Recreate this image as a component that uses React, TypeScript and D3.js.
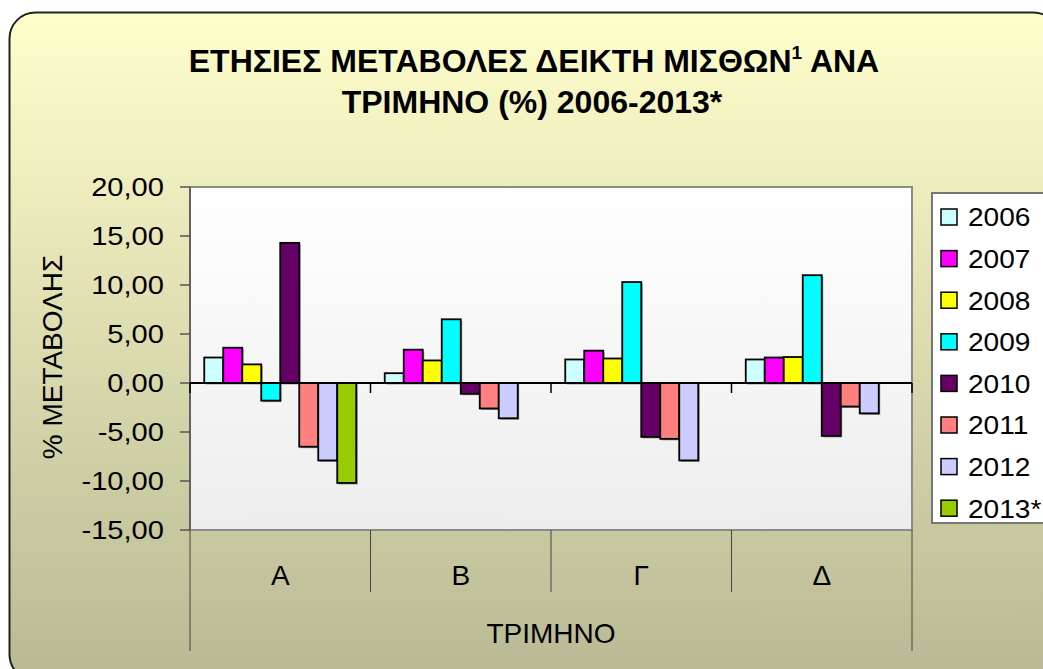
import React from "react";
import * as d3 from "d3";

const categories = ["Α", "Β", "Γ", "Δ"];
const years = ["2006", "2007", "2008", "2009", "2010", "2011", "2012", "2013*"];
const colors = ["#CCFFFF", "#FF00FF", "#FFFF00", "#00FFFF", "#660066", "#FF8080", "#CCCCFF", "#99CC00"];

// values per year, one per quarter (Α, Β, Γ, Δ)
const v2006 = [2.6, 1.0, 2.4, 2.4];
const v2007 = [3.6, 3.4, 3.3, 2.6];
const v2008 = [1.9, 2.3, 2.5, 2.65];
const v2009 = [-1.8, 6.5, 10.3, 11.0];
const v2010 = [14.3, -1.1, -5.5, -5.4];
const v2011 = [-6.5, -2.6, -5.7, -2.4];
const v2012 = [-7.9, -3.6, -7.9, -3.1];
const v2013 = [-10.2, null, null, null];
const series = [v2006, v2007, v2008, v2009, v2010, v2011, v2012, v2013];

const yTicks = [-15, -10, -5, 0, 5, 10, 15, 20];

const W = 1043;
const H = 669;
const plot = { left: 190, right: 912, top: 187, bottom: 530 };
const font = "'Liberation Sans', Arial, sans-serif";

function App() {
  const x0 = d3
    .scaleBand<string>()
    .domain(categories)
    .range([plot.left, plot.right])
    .paddingInner(0)
    .paddingOuter(0);
  const x1 = d3
    .scaleBand<string>()
    .domain(years)
    .range([0, x0.bandwidth()])
    .paddingInner(0)
    .paddingOuter(0.75);
  const y = d3.scaleLinear().domain([-15, 20]).range([plot.bottom, plot.top]);
  const fmt = (v: number) => d3.format(".2f")(v).replace(".", ",").replace("−", "-");

  const bounds = [...categories.map((c) => x0(c) as number), plot.right];

  return (
    <svg width={W} height={H} style={{ position: "absolute", left: 0, top: 0, display: "block" }}>
      <defs>
        <linearGradient id="bg" x1="0" y1="0" x2="0" y2="1">
          <stop offset="0" stopColor="#FFFFCC" />
          <stop offset="1" stopColor="#B8B894" />
        </linearGradient>
        <linearGradient id="pa" x1="0" y1="0" x2="0" y2="1">
          <stop offset="0" stopColor="#FFFFFF" />
          <stop offset="1" stopColor="#EDEDED" />
        </linearGradient>
      </defs>
      <rect width={W} height={H} fill="#fff" />
      <rect x={9.5} y={12.5} width={1050} height={668} rx={26} fill="url(#bg)" stroke="#222" strokeWidth={2} />

      <text x={534} y={72} textAnchor="middle" fontFamily={font} fontWeight="bold" fontSize={32} fill="#000">
        ΕΤΗΣΙΕΣ ΜΕΤΑΒΟΛΕΣ ΔΕΙΚΤΗ ΜΙΣΘΩΝ
        <tspan fontSize={19} dy={-13}>1</tspan>
        <tspan dy={13}> ΑΝΑ</tspan>
      </text>
      <text x={532} y={113} textAnchor="middle" fontFamily={font} fontWeight="bold" fontSize={32} fill="#000">
        ΤΡΙΜΗΝΟ (%) 2006-2013*
      </text>

      <rect
        x={plot.left}
        y={plot.top}
        width={plot.right - plot.left}
        height={plot.bottom - plot.top}
        fill="url(#pa)"
        stroke="#8a8a8a"
        strokeWidth={2}
      />
      <line x1={plot.left} x2={plot.left} y1={plot.top} y2={plot.bottom} stroke="#555" strokeWidth={1.5} />

      {yTicks.map((t) => (
        <g key={t}>
          <line x1={180} x2={plot.left} y1={y(t)} y2={y(t)} stroke="#555" strokeWidth={1.5} />
          <text
            transform={`translate(164,${y(t)}) scale(1.12,1)`}
            dy="0.36em"
            textAnchor="end"
            fontFamily={font}
            fontSize={26}
            fill="#000"
          >
            {fmt(t)}
          </text>
        </g>
      ))}
      <text
        transform={`translate(62,357) rotate(-90)`}
        textAnchor="middle"
        fontFamily={font}
        fontSize={28}
        fill="#000"
      >
        % ΜΕΤΑΒΟΛΗΣ
      </text>

      {categories.map((c, ci) => (
        <g key={c} transform={`translate(${x0(c)},0)`}>
          {series.map((vals, si) => {
            const v = vals[ci];
            if (v == null) return null;
            const bx = x1(years[si]) as number;
            const top = Math.min(y(v), y(0));
            const h = Math.abs(y(v) - y(0));
            return (
              <g key={si}>
                <rect x={bx + 1.5} y={top + 1.5} width={x1.bandwidth()} height={h} fill="#9a9a9a" />
                <rect
                  x={bx}
                  y={top}
                  width={x1.bandwidth()}
                  height={h}
                  fill={colors[si]}
                  stroke="#000"
                  strokeWidth={1.8}
                />
              </g>
            );
          })}
        </g>
      ))}

      <line x1={plot.left} x2={plot.right} y1={y(0)} y2={y(0)} stroke="#000" strokeWidth={2} />
      {bounds.map((b, i) => (
        <line key={i} x1={b} x2={b} y1={y(0)} y2={y(0) + 10} stroke="#000" strokeWidth={1.5} />
      ))}

      {bounds.map((b, i) => (
        <line
          key={i}
          x1={b}
          x2={b}
          y1={plot.bottom}
          y2={i === 0 || i === bounds.length - 1 ? 651 : 592}
          stroke="#444"
          strokeWidth={1}
        />
      ))}
      {categories.map((c) => (
        <text
          key={c}
          x={(x0(c) as number) + x0.bandwidth() / 2}
          y={585}
          textAnchor="middle"
          fontFamily={font}
          fontSize={28}
          fill="#000"
        >
          {c}
        </text>
      ))}
      <text x={(plot.left + plot.right) / 2} y={643} textAnchor="middle" fontFamily={font} fontSize={28} fill="#000">
        ΤΡΙΜΗΝΟ
      </text>

      <rect x={932} y={193} width={130} height={330} fill="#fff" stroke="#777" strokeWidth={2} />
      {years.map((yr, i) => (
        <g key={yr} transform={`translate(0,${217 + i * 41.6})`}>
          <rect x={941} y={-8} width={16} height={16} fill={colors[i]} stroke="#000" strokeWidth={1.5} />
          <text transform="translate(968,0) scale(1.08,1)" dy="0.36em" fontFamily={font} fontSize={26} fill="#000">
            {yr}
          </text>
        </g>
      ))}
    </svg>
  );
}

export default App;
